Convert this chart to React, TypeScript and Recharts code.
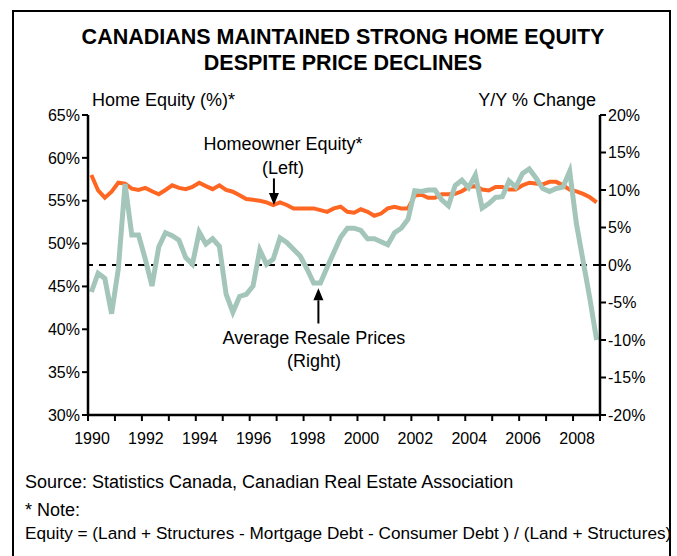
import { LineChart, Line, XAxis, YAxis, ReferenceLine } from 'recharts';

const startYear = 1990;
const yearTicks = [1990, 1991, 1992, 1993, 1994, 1995, 1996, 1997, 1998, 1999, 2000, 2001, 2002, 2003, 2004, 2005, 2006, 2007, 2008, 2009];
const leftTicks = [30, 35, 40, 45, 50, 55, 60, 65];
const rightTicks = [-20, -15, -10, -5, 0, 5, 10, 15, 20];

// quarterly, 1990Q1 .. 2008Q4
const equity = [
  58.0, 56.2, 55.35, 56.05, 57.1, 57.0, 56.4, 56.25, 56.5, 56.1, 55.75, 56.25, 56.8, 56.5, 56.35, 56.6,
  57.1, 56.7, 56.35, 56.8, 56.25, 56.05, 55.65, 55.2, 55.1, 55.0, 54.8, 54.5, 54.8, 54.5, 54.1, 54.1,
  54.1, 54.1, 53.9, 53.7, 54.1, 54.3, 53.7, 53.6, 54.0, 53.7, 53.25, 53.5, 54.1, 54.3, 54.1, 54.1,
  55.6, 55.7, 55.35, 55.35, 55.75, 55.75, 55.8, 56.1, 56.6, 56.7, 56.3, 56.2, 56.6, 56.6, 56.3, 56.3,
  56.8, 57.1, 57.0, 56.9, 57.2, 57.2, 56.8, 56.3, 56.1, 55.8, 55.4, 54.8,
];
const resalePrices = [
  -3.6, -1.1, -1.8, -6.5, -0.5, 10.8, 4.0, 4.0, 0.8, -2.8, 2.4, 4.3, 3.9, 3.3, 1.0, 0.1,
  4.4, 2.8, 3.5, 2.5, -3.9, -6.3, -4.2, -3.9, -2.8, 2.0, 0.1, 0.8, 3.6, 3.0, 2.1, 1.2,
  -0.5, -2.4, -2.4, -0.3, 1.7, 3.7, 4.9, 4.9, 4.6, 3.5, 3.5, 3.1, 2.7, 4.3, 4.9, 6.1,
  9.9, 9.8, 10.0, 10.0, 8.7, 7.9, 10.6, 11.3, 10.3, 12.0, 7.6, 8.2, 9.0, 9.1, 11.2, 10.4,
  12.2, 12.8, 11.6, 10.2, 9.8, 10.2, 10.4, 12.5, 5.5, 0.5, -4.5, -10.0,
];

const data = equity.map((v, i) => ({ t: startYear + (i + 0.5) / 4, equity: v, prices: resalePrices[i] }));

const font = '"Liberation Sans", Arial, sans-serif';
const tickStyle = { fontSize: 16, fill: '#000', fontFamily: font };

// vertical arrow for the callouts, head at the segment end
function Arrow(p: any) {
  const { x1, y1, x2, y2 } = p;
  const dir = y2 > y1 ? 1 : -1;
  const head = 12;
  return (
    <g>
      <line x1={x1} y1={y1} x2={x2} y2={y2 - dir * head} stroke="#000" strokeWidth={2} />
      <polygon points={`${x2},${y2} ${x2 - 5},${y2 - dir * head} ${x2 + 5},${y2 - dir * head}`} fill="#000" />
    </g>
  );
}

const txt = (top: number, extra: any) => ({
  position: 'absolute' as const, top, fontFamily: font, color: '#000', lineHeight: '20px', whiteSpace: 'nowrap' as const, ...extra,
});

export default function App() {
  return (
    <div style={{ position: 'absolute', left: 0, top: 0, width: 677, height: 556, overflow: 'hidden', background: '#fff' }}>
      <div style={{ position: 'absolute', left: 12, top: 10, width: 655, height: 600, border: '2px solid #000' }} />
      <div style={{ position: 'absolute', left: 0, top: 24, width: 686, textAlign: 'center', fontFamily: font, fontWeight: 'bold', fontSize: 21.5, lineHeight: '26px' }}>
        CANADIANS MAINTAINED STRONG HOME EQUITY<br />DESPITE PRICE DECLINES
      </div>
      <div style={txt(90, { left: 92, fontSize: 18 })}>Home Equity (%)*</div>
      <div style={txt(90, { right: 81, fontSize: 18 })}>Y/Y % Change</div>

      <LineChart width={677} height={556} data={data} margin={{ top: 115, right: 17, bottom: 101, left: 28 }} style={{ position: 'absolute', left: 0, top: 0 }}>
        <XAxis xAxisId="top" orientation="top" dataKey="t" type="number" domain={[1990, 2009]} height={0} tick={false} tickLine={false} axisLine={{ stroke: '#000', strokeWidth: 2 }} />
        <XAxis
          dataKey="t"
          type="number"
          domain={[1990, 2009]}
          ticks={yearTicks}
          interval={0}
          height={40}
          tickFormatter={(y: number) => (y % 2 === 0 && y < 2009 ? String(y) : '')}
          tick={{ ...tickStyle, dx: 4 }}
          tickMargin={12}
          tickSize={6}
          tickLine={{ stroke: '#000', strokeWidth: 2 }}
          axisLine={{ stroke: '#000', strokeWidth: 2.5 }}
        />
        <YAxis yAxisId="left" domain={[30, 65]} ticks={leftTicks} width={60} tickFormatter={(v: number) => `${v}%`} tick={tickStyle} tickLine={{ stroke: '#000', strokeWidth: 2 }} axisLine={{ stroke: '#000', strokeWidth: 2.5 }} />
        <YAxis yAxisId="right" orientation="right" domain={[-20, 20]} ticks={rightTicks} width={60} tickFormatter={(v: number) => `${v}%`} tick={tickStyle} tickLine={{ stroke: '#000', strokeWidth: 2 }} axisLine={{ stroke: '#000', strokeWidth: 2.5 }} />
        <ReferenceLine yAxisId="right" y={0} stroke="#000" strokeWidth={2} strokeDasharray="7 6" />
        <Line yAxisId="left" dataKey="equity" stroke="#FF6622" strokeWidth={4} dot={false} isAnimationActive={false} />
        <Line yAxisId="right" dataKey="prices" stroke="#A4C6BA" strokeWidth={5} dot={false} isAnimationActive={false} />
        <ReferenceLine yAxisId="left" segment={[{ x: 1996.9, y: 57.6 }, { x: 1996.9, y: 54.5 }]} shape={Arrow} />
        <ReferenceLine yAxisId="right" segment={[{ x: 1998.55, y: -7.8 }, { x: 1998.55, y: -3.1 }]} shape={Arrow} />
      </LineChart>

      <div style={txt(132, { left: 183, width: 200, textAlign: 'center', fontSize: 18, lineHeight: '24px' })}>Homeowner Equity*<br />(Left)</div>
      <div style={txt(327, { left: 214, width: 200, textAlign: 'center', fontSize: 18, lineHeight: '23px' })}>Average Resale Prices<br />(Right)</div>

      <div style={txt(472, { left: 25, fontSize: 18 })}>Source: Statistics Canada, Canadian Real Estate Association</div>
      <div style={txt(500, { left: 25, fontSize: 18 })}>* Note:</div>
      <div style={txt(523, { left: 25, fontSize: 17.2 })}>Equity = (Land + Structures - Mortgage Debt - Consumer Debt ) / (Land + Structures)</div>
    </div>
  );
}
